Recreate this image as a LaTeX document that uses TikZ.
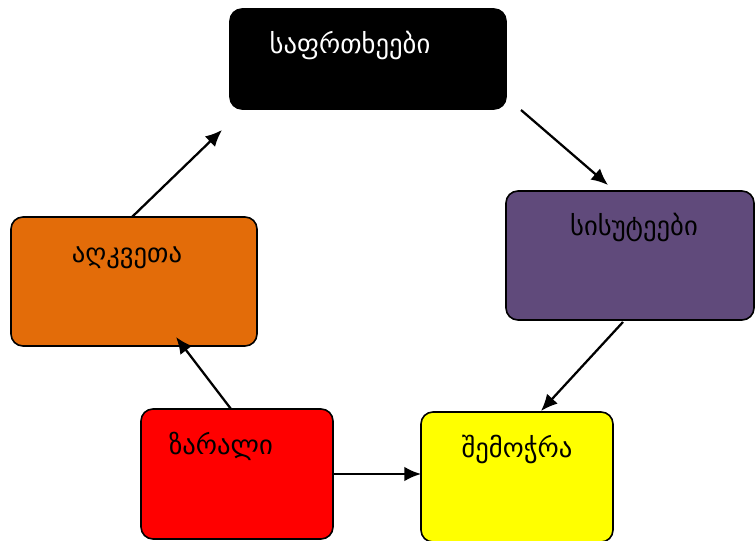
\documentclass[tikz,border=0pt]{standalone}
\usepackage{fontspec}
\newfontfamily\geofont{DejaVu Sans}
\usepackage{tikz}
\usetikzlibrary{arrows.meta}
\usetikzlibrary{calc}

\definecolor{weakpurple}{HTML}{604A7B}
\definecolor{preventorange}{HTML}{E36C09}
\definecolor{breachyellow}{HTML}{FFFF00}

\begin{document}
\begin{tikzpicture}[x=0.75pt,y=-0.75pt]
\tikzset{box/.style={draw, line width=1.2pt, rounded corners=9pt, outer sep=0pt, inner sep=0pt}}
\tikzset{lbl/.style={anchor=base, font=\geofont\fontsize{20}{24}\selectfont}}
\tikzset{flow/.style={line width=1.7pt, -{Latex[length=12.5pt,width=11pt]}}}
\useasboundingbox (0,0) rectangle (756,541);
% boxes
\node[box, fill=black, minimum width=207pt, minimum height=75pt] (threats) at (368,59) {};
\node[box, fill=weakpurple, minimum width=186pt, minimum height=96.75pt] (weak) at (630,255.5) {};
\node[box, fill=preventorange, minimum width=184.5pt, minimum height=96.75pt] (prevent) at (134,281.5) {};
\node[box, fill=red, minimum width=144pt, minimum height=97.5pt] (loss) at (237,474) {};
\node[box, fill=breachyellow, minimum width=144pt, minimum height=97.5pt] (breach) at (517,477) {};
% texts
\node[lbl, text=white] (threatstext) at (350,54) {საფრთხეები};
\node[lbl] (weaktext) at (634,236) {სისუტეები};
\node[lbl] (preventtext) at (127,263) {აღკვეთა};
\node[lbl] (losstext) at (221,454) {ზარალი};
\node[lbl] (breachtext) at (517,457) {შემოჭრა};
% arrows
\draw[flow] ($(prevent.north)+(-2,0)$) -- ($(threats.south west)+(-8,21)$);
\draw[flow] ($(threats.south east)+(15,1)$) -- ($(weak.north)+(-22,-6)$);
\draw[flow] ($(weak.south)+(-7,2)$) -- ($(breach.north)+(24,-1)$);
\draw[flow] (loss.east) -- (breach.west |- loss.east);
\draw[flow] ($(loss.north)+(-6,0)$) -- ($(prevent.south)+(42,-9)$);
\end{tikzpicture}
\end{document}
